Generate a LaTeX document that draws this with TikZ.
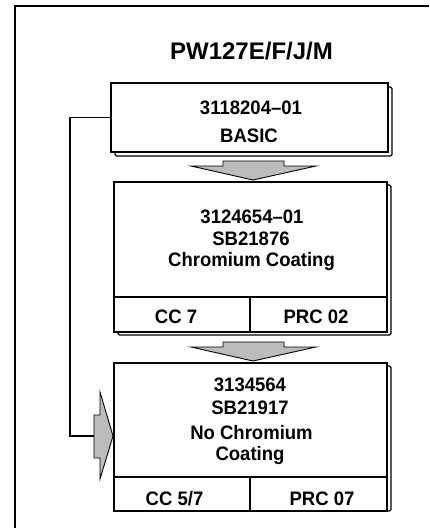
\documentclass[tikz,border=0pt]{standalone}
\usepackage{fontspec}
\setmainfont{Liberation Sans}
\newfontfamily\boxfont{Liberation Sans}[FakeStretch=0.95]
\usetikzlibrary{calc,backgrounds}
\definecolor{agray}{RGB}{188,188,188}
\begin{document}
\begin{tikzpicture}[x=1pt,y=-1pt,
  boxline/.style={draw=black,line width=1.2pt},
  box/.style={boxline,fill=white,inner sep=0pt,outer sep=0pt},
  shadowbox/.style={draw=black,line width=1.2pt,fill=white,rounded corners=1.5pt},
  txt/.style={font=\boxfont\bfseries\fontsize{19.5}{22}\selectfont,inner sep=0pt,anchor=base},
  titletxt/.style={font=\bfseries\fontsize{24}{27}\selectfont,inner sep=0pt,anchor=base},
  blockarrow/.style={draw=black,line width=0.9pt,fill=agray,line join=miter},
  conn/.style={draw=black,line width=1.2pt}]
\useasboundingbox (0,0) rectangle (429,528);
% outer frame (cropped on right and bottom)
\draw[line width=2.7pt] (15,528) -- (15,6) -- (429,6);

% title
\node[titletxt] (title) at (251.5,59) {PW127E/F/J/M};

% shadows
\draw[shadowbox] (115,87) rectangle (392,156);
\draw[shadowbox] (118,185) rectangle (391,335);
\draw[boxline,rounded corners=1.5pt] (387,366) -- (391,366) -- (391,511) -- (387,511);

% boxes
\node[box,minimum width=277pt,minimum height=69pt] (b1) at (249.5,117.5) {};
\node[box,minimum width=273pt,minimum height=150pt] (b2) at (250.5,257) {};
\node[box,minimum width=273pt,minimum height=148pt] (b3) at (250.5,437) {};

% dividers
\draw[boxline] (b2.west |- 0,297) -- (b2.east |- 0,297);
\draw[boxline] (250,297) -- (250,332);
\draw[boxline] (b3.west |- 0,477) -- (b3.east |- 0,477);
\draw[boxline] (250,477) -- (250,511);

% texts box 1
\node[txt] (t11) at (251,114.5) {3118204–01};
\node[txt] (t12) at (249,142) {BASIC};
% texts box 2
\node[txt] (t21) at (252,223) {3124654–01};
\node[txt] (t22) at (251,245) {SB21876};
\node[txt] (t23) at (251.5,266) {Chromium Coating};
\node[txt] (c21) at (176,323) {CC 7};
\node[txt] (c22) at (316,323) {PRC 02};
% texts box 3
\node[txt] (t31) at (250,391) {3134564};
\node[txt] (t32) at (250,414) {SB21917};
\node[txt] (t33) at (251.5,439) {No Chromium};
\node[txt] (t34) at (250,460) {Coating};
\node[txt] (c31) at (174.5,505) {CC 5/7};
\node[txt] (c32) at (322,505) {PRC 07};

% down block arrows
\path[blockarrow] (223,161) -- (284,161) -- (284,166) -- (316,166) -- (253,180) -- (191,166) -- (223,166) -- cycle;
\path[blockarrow] (223,342) -- (284,342) -- (284,347) -- (316,347) -- (253,361) -- (191,347) -- (223,347) -- cycle;

% side connector and block arrow
\coordinate (sa) at (94,436);
\draw[conn] (b1.west) -- ++(-41,0) |- (sa);
\path[blockarrow] (94,415) -- (100,415) -- (100,392) -- (113,436) -- (100,479) -- (100,458) -- (94,458) -- cycle;
\end{tikzpicture}
\end{document}
